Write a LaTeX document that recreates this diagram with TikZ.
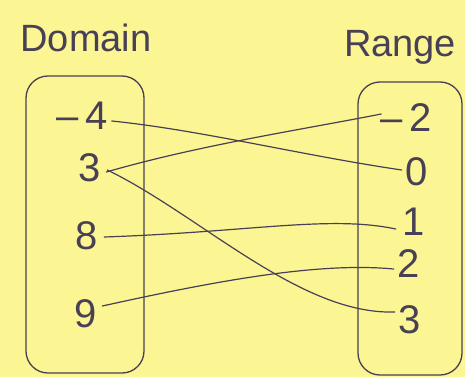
\documentclass[tikz,border=0pt]{standalone}
\usepackage{fontspec}
\setmainfont{Liberation Sans}
\definecolor{paper}{RGB}{251,245,148}
\definecolor{pencil}{RGB}{72,64,84}
\begin{document}
\begin{tikzpicture}[x=1pt,y=-1pt,
  pen/.style={draw=pencil,line width=1.3pt,line cap=round,line join=round},
  setbox/.style={pen,rounded corners=22pt},
  num/.style={text=pencil,font=\fontsize{40}{40}\selectfont,inner sep=1pt},
  title/.style={text=pencil,font=\fontsize{38}{38}\selectfont,inner sep=0pt},
  link/.style={pen,line width=1.2pt}]
\fill[paper] (0,0) rectangle (465,377);
\useasboundingbox (0,0) rectangle (465,377);
% titles
\node[title] (dom) at (86,38) {Domain};
\node[title] (ran) at (400,47) {Range};
% set boxes
\draw[setbox] (26,76) rectangle (144,373);
\draw[setbox] (358,82) rectangle (462,375);
% domain values
\node[num] (dm4) at (82,116) {--\,4};
\node[num] (d3) at (90,168) {3};
\node[num] (d8) at (87,236) {8};
\node[num] (d9) at (86,314) {9};
% range values
\node[num] (rm2) at (406,118) {--\,2};
\node[num] (r0) at (417,172) {0};
\node[num] (r1) at (414,222) {1};
\node[num] (r2) at (409,264) {2};
\node[num] (r3) at (410,320) {3};
% connectors
\draw[link] ([xshift=3pt,yshift=-5pt]dm4.east) .. controls (200,130) and (300,155) .. ([xshift=-3pt,yshift=2pt]r0.west);
\draw[link] ([xshift=4pt,yshift=-4pt]d3.east) .. controls (200,145) and (300,130) .. ([xshift=2pt,yshift=4pt]rm2.west);
\draw[link] ([xshift=5pt,yshift=-2pt]d3.east) .. controls (200,215) and (300,315) .. ([xshift=-3pt,yshift=8pt]r3.west);
\draw[link] ([xshift=5pt,yshift=-1pt]d8.east) .. controls (250,232) and (330,215) .. ([xshift=-6pt,yshift=-7pt]r1.west);
\draw[link] ([xshift=4pt,yshift=8pt]d9.east) .. controls (220,280) and (320,262) .. ([xshift=-3pt,yshift=-5pt]r2.west);
\end{tikzpicture}
\end{document}
